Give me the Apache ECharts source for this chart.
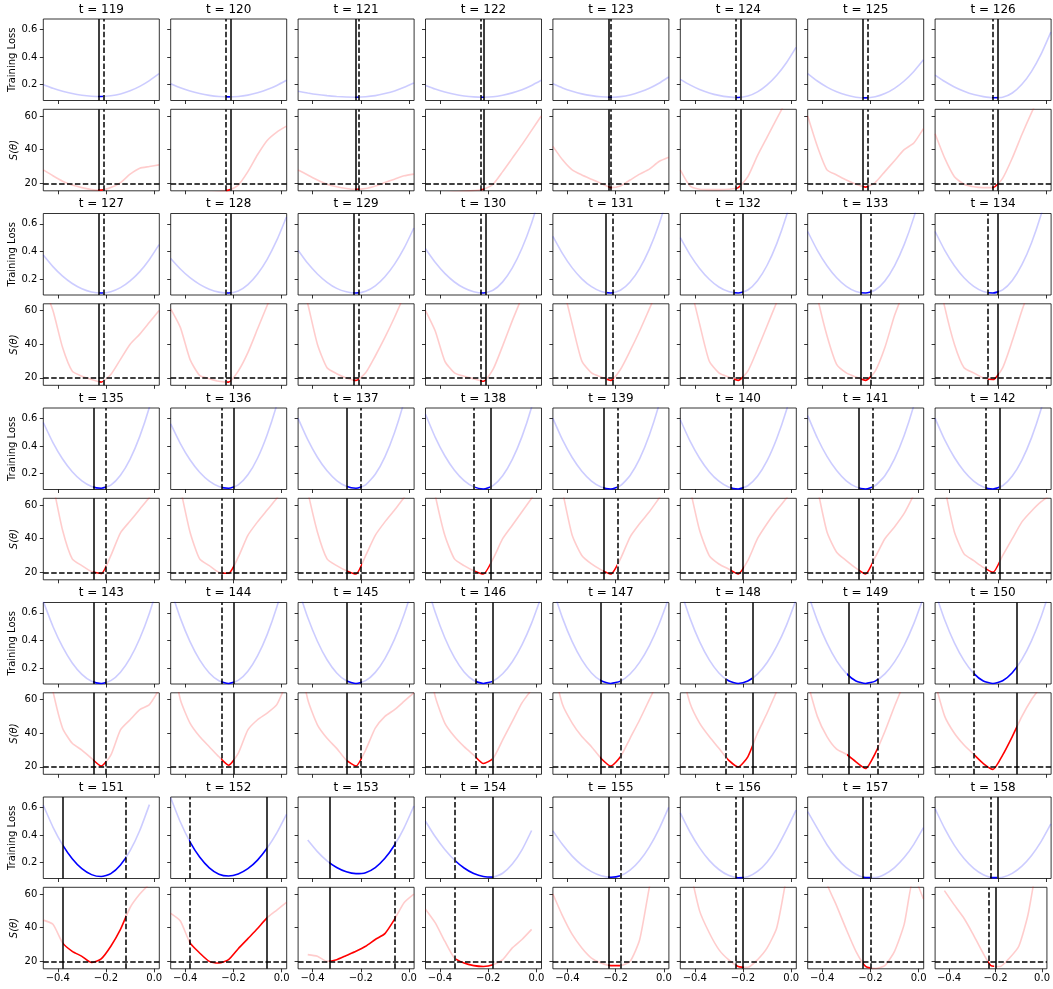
<!DOCTYPE html>
<html>
<head>
<meta charset="utf-8">
<script src="https://cdn.jsdelivr.net/npm/echarts@6/dist/echarts.min.js"></script>
<style>
  html, body { margin: 0; padding: 0; background: #fff; }
  #chart { width: 1053px; height: 989px; }
</style>
</head>
<body>
<div id="chart"></div>
<script>
// time steps, one column pair of panels each
const steps = [119, 120, 121, 122, 123, 124, 125, 126,
  127, 128, 129, 130, 131, 132, 133, 134,
  135, 136, 137, 138, 139, 140, 141, 142,
  143, 144, 145, 146, 147, 148, 149, 150,
  151, 152, 153, 154, 155, 156, 157, 158]

// theta positions where the curves were read
const thetaGrid = [-0.46, -0.42, -0.38, -0.34, -0.30, -0.26, -0.22, -0.18, -0.14, -0.10, -0.06, -0.02, 0.02]

// vertical markers (solid and dashed) per step
const solidLine = [-0.232, -0.214, -0.223, -0.2165, -0.2306, -0.212, -0.232, -0.200,
  -0.227, -0.211, -0.234, -0.210, -0.236, -0.201, -0.241, -0.197,
  -0.252, -0.197, -0.257, -0.193, -0.253, -0.195, -0.246, -0.194,
  -0.252, -0.197, -0.257, -0.185, -0.264, -0.164, -0.295, -0.122,
  -0.380, -0.0625, -0.332, -0.182, -0.233, -0.195, -0.232, -0.205]
const dashedLine = [-0.214, -0.231, -0.209, -0.230, -0.2166, -0.231, -0.210, -0.224,
  -0.213, -0.228, -0.209, -0.232, -0.208, -0.237, -0.199, -0.241,
  -0.202, -0.248, -0.195, -0.255, -0.194, -0.248, -0.193, -0.247,
  -0.202, -0.250, -0.195, -0.252, -0.183, -0.265, -0.167, -0.300,
  -0.118, -0.383, -0.056, -0.335, -0.183, -0.231, -0.202, -0.233]

// training loss per step, on thetaGrid
const lossCurves = [
  [0.200, 0.174, 0.153, 0.136, 0.124, 0.117, 0.115, 0.120, 0.133, 0.156, 0.188, 0.230, 0.280],
  [0.207, 0.178, 0.154, 0.136, 0.123, 0.115, 0.112, 0.115, 0.125, 0.142, 0.165, 0.195, 0.232],
  [0.153, 0.140, 0.129, 0.121, 0.115, 0.111, 0.110, 0.113, 0.121, 0.136, 0.155, 0.181, 0.212],
  [0.195, 0.169, 0.148, 0.131, 0.119, 0.112, 0.110, 0.113, 0.124, 0.141, 0.164, 0.195, 0.232],
  [0.207, 0.177, 0.153, 0.134, 0.121, 0.113, 0.110, 0.114, 0.126, 0.147, 0.175, 0.211, 0.256],
  [0.239, 0.199, 0.166, 0.141, 0.123, 0.112, 0.108, 0.118, 0.148, 0.199, 0.269, 0.359, 0.470],
  [0.281, 0.227, 0.183, 0.149, 0.125, 0.110, 0.105, 0.113, 0.136, 0.174, 0.227, 0.296, 0.380],
  [0.270, 0.223, 0.184, 0.153, 0.129, 0.114, 0.106, 0.109, 0.140, 0.203, 0.297, 0.423, 0.580],
  [0.375, 0.291, 0.222, 0.169, 0.131, 0.108, 0.100, 0.110, 0.139, 0.188, 0.255, 0.343, 0.450],
  [0.350, 0.274, 0.211, 0.163, 0.128, 0.107, 0.100, 0.115, 0.161, 0.238, 0.344, 0.482, 0.650],
  [0.410, 0.315, 0.238, 0.178, 0.134, 0.109, 0.100, 0.113, 0.152, 0.218, 0.309, 0.426, 0.570],
  [0.420, 0.322, 0.242, 0.180, 0.136, 0.109, 0.100, 0.120, 0.181, 0.282, 0.424, 0.607, 0.830],
  [0.510, 0.385, 0.282, 0.203, 0.146, 0.111, 0.100, 0.120, 0.180, 0.279, 0.418, 0.598, 0.817],
  [0.500, 0.378, 0.278, 0.200, 0.144, 0.111, 0.100, 0.122, 0.189, 0.301, 0.457, 0.658, 0.904],
  [0.545, 0.409, 0.298, 0.211, 0.149, 0.112, 0.100, 0.122, 0.188, 0.297, 0.450, 0.647, 0.888],
  [0.545, 0.409, 0.298, 0.211, 0.149, 0.112, 0.100, 0.123, 0.191, 0.305, 0.464, 0.669, 0.920],
  [0.570, 0.425, 0.306, 0.214, 0.148, 0.108, 0.095, 0.118, 0.189, 0.306, 0.470, 0.681, 0.939],
  [0.560, 0.418, 0.301, 0.211, 0.147, 0.108, 0.095, 0.119, 0.192, 0.312, 0.482, 0.699, 0.965],
  [0.600, 0.446, 0.319, 0.221, 0.151, 0.109, 0.095, 0.120, 0.196, 0.322, 0.498, 0.724, 0.999],
  [0.630, 0.465, 0.330, 0.225, 0.150, 0.105, 0.090, 0.114, 0.185, 0.303, 0.468, 0.681, 0.941],
  [0.600, 0.444, 0.317, 0.218, 0.147, 0.104, 0.090, 0.114, 0.187, 0.309, 0.480, 0.699, 0.967],
  [0.590, 0.437, 0.312, 0.215, 0.146, 0.104, 0.090, 0.113, 0.181, 0.294, 0.454, 0.658, 0.908],
  [0.620, 0.458, 0.325, 0.223, 0.149, 0.105, 0.090, 0.114, 0.186, 0.307, 0.476, 0.693, 0.958],
  [0.600, 0.444, 0.317, 0.218, 0.147, 0.104, 0.090, 0.113, 0.183, 0.299, 0.461, 0.669, 0.924],
  [0.683, 0.502, 0.354, 0.238, 0.156, 0.106, 0.090, 0.110, 0.171, 0.273, 0.415, 0.598, 0.822],
  [0.770, 0.562, 0.392, 0.260, 0.166, 0.109, 0.090, 0.112, 0.178, 0.289, 0.443, 0.642, 0.885],
  [0.775, 0.566, 0.395, 0.261, 0.166, 0.109, 0.090, 0.110, 0.170, 0.270, 0.410, 0.590, 0.810],
  [0.833, 0.606, 0.420, 0.276, 0.173, 0.111, 0.090, 0.107, 0.160, 0.247, 0.369, 0.526, 0.718],
  [0.770, 0.562, 0.392, 0.260, 0.166, 0.109, 0.090, 0.107, 0.158, 0.244, 0.364, 0.518, 0.706],
  [0.770, 0.562, 0.392, 0.260, 0.166, 0.109, 0.090, 0.107, 0.157, 0.241, 0.359, 0.510, 0.695],
  [0.744, 0.544, 0.381, 0.253, 0.163, 0.108, 0.090, 0.107, 0.159, 0.246, 0.366, 0.522, 0.712],
  [0.750, 0.548, 0.383, 0.255, 0.163, 0.108, 0.090, 0.109, 0.167, 0.264, 0.400, 0.574, 0.787],
  [0.615, 0.458, 0.329, 0.229, 0.157, 0.114, 0.100, 0.121, 0.183, 0.287, 0.433, 0.620, null],
  [0.670, 0.494, 0.351, 0.241, 0.163, 0.117, 0.104, 0.119, 0.157, 0.219, 0.306, 0.416, 0.550],
  [null, 0.364, 0.280, 0.213, 0.165, 0.134, 0.121, 0.128, 0.165, 0.232, 0.328, 0.454, 0.610],
  [0.500, 0.389, 0.296, 0.220, 0.162, 0.122, 0.100, 0.096, 0.124, 0.190, 0.293, 0.433, null],
  [0.430, 0.331, 0.248, 0.183, 0.136, 0.106, 0.095, 0.106, 0.146, 0.216, 0.315, 0.443, 0.600],
  [0.560, 0.422, 0.307, 0.217, 0.151, 0.109, 0.091, 0.099, 0.137, 0.206, 0.306, 0.437, 0.580],
  [0.570, 0.448, 0.330, 0.235, 0.164, 0.117, 0.093, 0.093, 0.117, 0.165, 0.237, 0.333, 0.453],
  [0.590, 0.446, 0.325, 0.230, 0.159, 0.113, 0.092, 0.095, 0.123, 0.175, 0.252, 0.354, 0.480]
]

// S(theta) per step, on thetaGrid
const scoreCurves = [
  [28, 24.5, 21.3, 19, 17.5, 16.3, 16, 17.5, 20.5, 25.5, 29, 30, 31],
  [13, 13, 13.5, 14, 14.5, 15, 16, 19, 27, 37, 45.5, 50.5, 54],
  [28, 25, 22, 19.5, 18, 17, 16.5, 17, 18.5, 20.5, 22.5, 24.5, 25.5],
  [14, 14, 14.5, 15, 15.3, 15.7, 16.5, 19.5, 27, 35, 43, 51.5, 60],
  [42, 34, 28, 25, 22.5, 20, 17.5, 18.5, 22, 25.5, 28.5, 33, 35.5],
  [28, 18.5, 16.5, 16.3, 16.3, 16.5, 17.5, 24, 36.5, 47.5, 58.5, 69, 80],
  [60, 42, 28, 25, 22, 19.5, 17.8, 20.5, 27, 33.5, 40, 44, 52.5],
  [49.5, 35, 24, 19.5, 18, 17.5, 17.5, 23, 35, 49, 62, 74, 85],
  [75, 60, 38, 24, 21, 19, 17.5, 22, 31, 40, 46, 53, 60],
  [61, 50, 31, 21.5, 19.5, 18, 17.5, 24, 35, 49, 63, 76, 90],
  [85, 64, 40, 26, 22.5, 20, 18.5, 23, 33, 44, 56, 69, 82],
  [60, 48, 30, 23, 21, 19.5, 18, 25, 39, 54, 68, 82, 96],
  [90, 75, 52, 30, 23, 20.5, 18.5, 25, 36, 48, 61, 74, 87],
  [90, 75, 52, 30, 23, 20.5, 18.5, 24, 37, 51, 65, 79, 93],
  [95, 68, 45, 28, 23, 20.5, 18.5, 24, 38, 57, 72, 87, 100],
  [90, 62, 40, 26, 23, 20, 19, 26, 42, 60, 76, 92, 108],
  [95, 72, 45, 28, 24, 20.5, 19.3, 30, 43.5, 50.5, 57.5, 64.5, 71],
  [95, 70, 44, 28, 24, 20, 19.5, 29, 42, 50, 57, 64, 72],
  [95, 68, 44, 28, 24, 21, 19, 30, 42, 50, 57, 64.5, 71],
  [95, 66, 42, 28, 24, 21, 19, 28, 40, 48, 56, 64, 72],
  [95, 68, 42, 30, 25, 21.5, 19, 28, 41, 49, 56, 64, 72],
  [95, 70, 45, 30, 25, 22, 19, 27, 40, 49, 57, 64, 72],
  [95, 70, 44, 32, 27, 22.5, 19, 29, 40, 47, 55, 66, 76],
  [95, 70, 44, 31, 27, 23, 20, 30, 40, 50, 56.5, 62, 66],
  [95, 65, 43, 34, 30, 25, 20.5, 27, 42, 48, 54, 57, 66],
  [90, 60, 46, 38, 32, 26, 21, 28, 42, 48, 52, 57, 70],
  [90, 60, 45, 37, 31, 24, 20.5, 30, 43, 50, 54, 59, 64],
  [92, 62, 46, 38, 32, 27, 22, 25, 36, 47, 58, 66, 75],
  [80, 57, 46, 38, 32, 25, 20.5, 26, 37, 48, 60, 72, 84],
  [80, 58, 46, 38, 31, 24, 20, 26, 40, 52, 65, 78, 91],
  [70, 50, 38, 30.5, 27.5, 23, 19, 28, 41, 56, 70, 84, 98],
  [70, 50, 40, 33, 27.5, 22, 18.5, 27, 38, 50, 60, 68, 76],
  [44.5, 42, 31, 26, 23, 19.3, 21.5, 29, 39, 52, 60, 66, 72],
  [48.5, 44, 31, 25, 20, 19, 21, 27.5, 33.5, 39.5, 46, 50.5, 55],
  [null, 24, 23, 20, 21, 23.5, 26, 29, 33, 36.5, 45, 55, 60],
  [51, 43, 32, 22, 19, 17.5, 17, 18, 21, 28, 33, 39, null],
  [60, 47, 36, 28, 22, 19, 17.5, 17.5, 20, 33, 64, 90, null],
  [null, 75, 50, 37, 27, 21, 17, 16.5, 21, 28, 40, 70, null],
  [null, 90, 66, 53, 39, 26, 17, 15.8, 17.5, 26, 42, 70, 57],
  [null, 62, 54, 46.5, 37, 26.5, 17.5, 17, 22, 29, 48, 80, null]
]

const xTicks = [-0.4, -0.2, 0.0]
const lossTicks = [0.2, 0.4, 0.6]
const scoreTicks = [20, 40, 60]
const scoreLevel = 20

// layout (px)
const colLeft = 43.3
const colStep = 127.4
const panelW = 116
const panelH = 81.5
const rowTop = 19
const rowStep = 194.5
const pairGap = 90.3
const font = 'DejaVu Sans'
const tickSize = 10
const nameSize = 10
const dash = [5.5, 2.4]

const fmtX = v => (v < 0 ? '\u2212' : '') + Math.abs(v).toFixed(1)

var grid = []
var xAxis = []
var yAxis = []
var series = []
var visualMap = []
var graphic = []

function tickStyle (vals) {
  return { show: true, customValues: vals, length: 3.5, lineStyle: { color: '#000', width: 0.8 } }
}

steps.forEach((t, i) => {
  const g = Math.floor(i / 8)
  const c = i % 8
  const left = colLeft + colStep * c
  const top = rowTop + rowStep * g
  const lo = Math.min(solidLine[i], dashedLine[i])
  const hi = Math.max(solidLine[i], dashedLine[i])

  graphic.push({
    type: 'text',
    x: left + panelW / 2,
    y: top - 9.5,
    style: { text: 't = ' + t, align: 'center', verticalAlign: 'middle', font: '12px ' + font, fill: '#000' }
  })

  const panels = [
    { top: top, curve: lossCurves[i], min: 0.086, max: 0.675, ticks: lossTicks, name: 'Training Loss', faded: 'rgba(0,0,255,0.2)', strong: '#0000ff', fmt: v => v.toFixed(1), level: false },
    { top: top + pairGap, curve: scoreCurves[i], min: 15.6, max: 64, ticks: scoreTicks, name: 'S(\u03b8)', faded: 'rgba(255,0,0,0.2)', strong: '#ff0000', fmt: v => String(v), level: true }
  ]

  panels.forEach((p, k) => {
    const idx = grid.length
    const bottomRow = g === 4 && k === 1
    grid.push({
      left: left, top: p.top, width: panelW, height: panelH,
      show: true, borderColor: '#000', borderWidth: 0.8, backgroundColor: 'transparent'
    })
    xAxis.push({
      gridIndex: idx, type: 'value', min: -0.46, max: 0.021,
      axisLine: { show: false, onZero: false },
      splitLine: { show: false },
      axisTick: tickStyle(xTicks),
      axisLabel: { show: bottomRow, customValues: xTicks, formatter: fmtX, fontSize: tickSize, fontFamily: font, color: '#000', margin: 5 }
    })
    yAxis.push({
      gridIndex: idx, type: 'value', min: p.min, max: p.max,
      name: c === 0 ? p.name : '',
      nameLocation: 'middle', nameRotate: 90, nameGap: 24,
      nameTextStyle: { fontSize: nameSize, fontFamily: font, color: '#000', fontStyle: k === 1 ? 'italic' : 'normal' },
      axisLine: { show: false, onZero: false },
      splitLine: { show: false },
      axisTick: tickStyle(p.ticks),
      axisLabel: { show: c === 0, customValues: p.ticks, formatter: p.fmt, fontSize: tickSize, fontFamily: font, color: '#000', margin: 6 }
    })

    const data = []
    thetaGrid.forEach((x, j) => {
      if (p.curve[j] !== null) data.push([x, p.curve[j]])
    })

    const marks = [
      { xAxis: solidLine[i], lineStyle: { color: '#000', width: 1.5, type: 'solid' } },
      { xAxis: dashedLine[i], lineStyle: { color: '#000', width: 1.5, type: dash } }
    ]
    if (p.level) marks.push({ yAxis: scoreLevel, lineStyle: { color: '#000', width: 1.5, type: dash } })

    // colour comes from the visualMap: strong between the two markers, faded elsewhere
    series.push({
      type: 'line',
      xAxisIndex: idx,
      yAxisIndex: idx,
      data: data,
      showSymbol: false,
      smooth: 0.2,
      lineStyle: { width: 1.6 },
      markLine: {
        silent: true,
        symbol: ['none', 'none'],
        label: { show: false },
        animation: false,
        data: marks
      }
    })
    visualMap.push({
      type: 'piecewise',
      show: false,
      seriesIndex: series.length - 1,
      dimension: 0,
      pieces: [{ min: lo, max: hi, color: p.strong }],
      outOfRange: { color: p.faded }
    })
  })
})

var chart = echarts.init(document.getElementById('chart'))
chart.setOption({
  animation: false,
  backgroundColor: '#fff',
  grid: grid,
  xAxis: xAxis,
  yAxis: yAxis,
  visualMap: visualMap,
  series: series,
  graphic: graphic
})
</script>
</body>
</html>
